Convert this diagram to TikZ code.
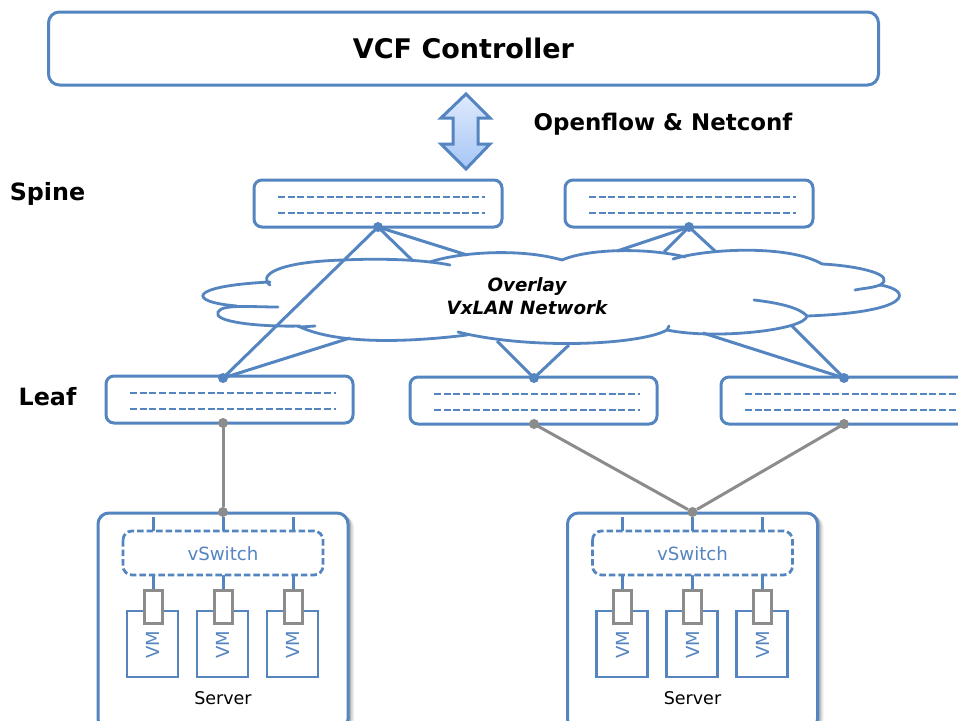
\documentclass[tikz,border=0pt]{standalone}
\usepackage{fontspec}
\setmainfont{DejaVu Sans}
\definecolor{bl}{HTML}{5585C0}
\definecolor{gr}{HTML}{8C8C8C}
\definecolor{arrtop}{HTML}{DFEAFC}
\definecolor{arrbot}{HTML}{A6C6F6}
\tikzset{
  x=1pt,y=-1pt,
  box/.style={draw=bl,line width=3pt,rounded corners=8pt,fill=white},
  cl/.style={draw=bl,line width=2.8pt,line cap=round},
  link/.style={draw=bl,line width=3pt},
  glink/.style={draw=gr,line width=3pt},
  dashl/.style={draw=bl,line width=2.5pt,dash pattern=on 7pt off 2.7pt},
  bdot/.style={circle,fill=bl,inner sep=0pt,minimum size=10pt},
  gdot/.style={circle,fill=gr,inner sep=0pt,minimum size=10pt},
  vmbox/.style={draw=bl,line width=2.8pt,fill=white},
  port/.style={draw=gr,line width=3pt,fill=white},
  head/.style={font=\bfseries,text=black,inner sep=0pt,anchor=center},
}
\newcommand{\swbox}[5]{% name x1 y1 x2 y2
  \path[box] (#2,#3) rectangle (#4,#5);
  \draw[dashl] (#2+24,#3+17) -- (#4-17,#3+17);
  \draw[dashl] (#2+24,#3+33) -- (#4-17,#3+33);
}
\newcommand{\serverblock}[2]{% name, xoffset
  \begin{scope}[xshift=#2pt]
    \path[fill=black!7,rounded corners=11pt] (104,516) rectangle (354,730);
    \path[fill=black!15,rounded corners=11pt] (103,515) rectangle (352.5,730);
    \path[fill=black!30,rounded corners=11pt] (102,514) rectangle (351,730);
    \path[box,rounded corners=11pt] (98,513) rectangle (348,730);
    \node[gdot] (#1top) at (223,512) {};
    \foreach \i/\x in {a/153,b/223,c/293}{
      \draw[link] (\x,517) -- (\x,532);
      \draw[link] (\x,575) -- (\x,592);
    }
    \path[draw=bl,line width=2.8pt,dash pattern=on 6.5pt off 3pt,rounded corners=9pt,fill=white] (123,531) rectangle (323,575);
    \node[text=bl,font=\fontsize{18.2}{18}\selectfont] at (223,554) {vSwitch};
    \foreach \x in {153,223,293}{
      \path[vmbox] (\x-26,611) rectangle (\x+25,677);
      \path[port] (\x-9,590) rectangle (\x+9,623);
      \node[text=bl,rotate=90,font=\fontsize{18}{18}\selectfont] at (\x,645) {VM};
    }
    \node[text=black,font=\fontsize{17.5}{18}\selectfont] at (223,698) {Server};
  \end{scope}
}
\begin{document}
\begin{tikzpicture}
\useasboundingbox (0,0) rectangle (958,720);
\clip (0,0) rectangle (958,720);
\path[fill=white] (0,0) rectangle (958,720);

\node[box,rounded corners=11pt,inner sep=0pt,minimum width=830pt,minimum height=73pt,anchor=north west,
      font=\bfseries\fontsize{27}{27}\selectfont] (ctrl) at (47,10.5) {VCF Controller};

% double arrow
\path[draw=bl,line width=3pt,top color=arrtop,bottom color=arrbot]
  (466,94) -- (490,118) -- (478,118) -- (478,144) -- (490,144) -- (466,169) -- (441,144) -- (453,144) -- (453,118) -- (441,118) -- cycle;

\node[head,font=\bfseries\fontsize{22.9}{23}\selectfont] (proto) at (663,124) {Openflow \& Netconf};
\node[head,font=\bfseries\fontsize{23.8}{24}\selectfont] (spinelab) at (47.5,194) {Spine};
\node[head,font=\bfseries\fontsize{23.8}{24}\selectfont] (leaflab) at (47.5,397) {Leaf};

% switches
\swbox{s1}{254}{180}{502}{227}
\swbox{s2}{565}{180}{813}{227}
\swbox{l1}{106}{376}{353}{423}
\swbox{l2}{410}{377}{657}{424}
\swbox{l3}{721}{377}{976}{424}

\coordinate (s1d) at (378,227);
\coordinate (s2d) at (689,227);
\coordinate (l1d) at (223,378);
\coordinate (l2d) at (534,378);
\coordinate (l3d) at (844,378);
\coordinate (c1) at (413,261);
\coordinate (c2) at (467,255);
\coordinate (c3) at (350,338);
\coordinate (c4) at (497,341);
\coordinate (c5) at (569,345);
\coordinate (c6) at (617,251);
\coordinate (c7) at (664,252);
\coordinate (c8) at (715,251);
\coordinate (c9) at (703,333);
\coordinate (c10) at (792,326);

\draw[link] (s1d) -- (l1d);
\draw[link] (s1d) -- (c1);
\draw[link] (s1d) -- (c2);
\draw[link] (l1d) -- (c3);
\draw[link] (l2d) -- (c4);
\draw[link] (l2d) -- (c5);
\draw[link] (s2d) -- (c6);
\draw[link] (s2d) -- (c7);
\draw[link] (s2d) -- (c8);
\draw[link] (l3d) -- (c9);
\draw[link] (l3d) -- (c10);

% cloud
\draw[cl] (270,285) .. controls (258,276) and (275,262) .. (343,260) .. controls (385,258) and (425,260) .. (450,265);
\draw[cl] (430,262) .. controls (460,252) and (520,248) .. (562,260);
\draw[cl] (562,260) .. controls (590,248) and (650,248) .. (685,257);
\draw[cl] (673,259) .. controls (710,248) and (790,245) .. (822,264);
\draw[cl] (822,264) .. controls (860,266) and (897,275) .. (880,285) .. controls (872,288) and (865,288) .. (855,290);
\draw[cl] (880,285) .. controls (912,290) and (915,312) .. (807,316);
\draw[cl] (754,300) .. controls (780,303) and (800,308) .. (807,316) .. controls (805,330) and (715,340) .. (667,330);
\draw[cl] (667,330) -- (669,326);
\draw[cl] (667,330) .. controls (640,345) and (530,350) .. (458,332);
\draw[cl] (467,335) .. controls (410,342) and (340,345) .. (300,327) -- (315,326);
\draw[cl] (300,326) .. controls (260,327) and (212,322) .. (218,312) .. controls (222,304) and (250,307) .. (278,307);
\draw[cl] (237,306) .. controls (187,302) and (187,286) .. (270,282);

\node[font=\bfseries\itshape\fontsize{18.3}{18}\selectfont,text=black] (ol1) at (527,287) {Overlay};
\node[font=\bfseries\itshape\fontsize{18.3}{18}\selectfont,text=black] (ol2) at (527,308) {VxLAN Network};

% servers
\serverblock{sa}{0}
\serverblock{sb}{469.5}

\coordinate (l1b) at (223,423);
\coordinate (l2b) at (534,424);
\coordinate (l3b) at (844,424);
\draw[glink] (l1b) -- (satop);
\draw[glink] (l2b) -- (sbtop);
\draw[glink] (l3b) -- (sbtop);

\foreach \p in {s1d,s2d,l1d,l2d,l3d} \node[bdot] at (\p) {};
\foreach \p in {l1b,l2b,l3b} \node[gdot] at (\p) {};
\end{tikzpicture}
\end{document}
